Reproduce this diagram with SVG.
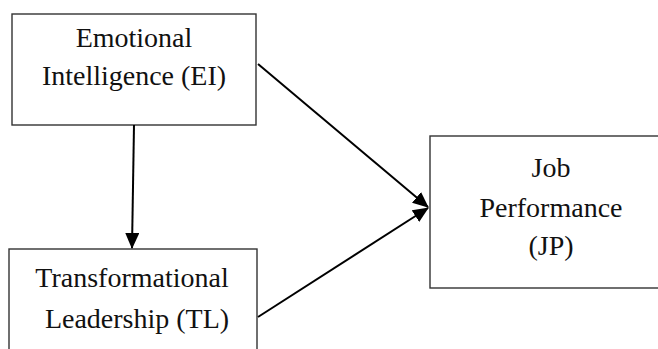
<svg xmlns="http://www.w3.org/2000/svg" width="658" height="349" viewBox="0 0 658 349">
<style>
.box{fill:#fff;stroke:#333;stroke-width:1.4}
.t{font-family:"Liberation Serif","Times New Roman",serif;font-size:28px;fill:#111;text-anchor:middle}
.c{stroke:#000;stroke-width:2;fill:none;marker-end:url(#ah)}
</style>
<defs>
<marker id="ah" markerWidth="16" markerHeight="14" refX="15" refY="7" orient="auto" markerUnits="userSpaceOnUse">
<path d="M0,0 L16,7 L0,14 Z" fill="#000"/>
</marker>
</defs>
<rect width="658" height="349" fill="#fff"/>
<g id="ei">
<rect class="box" x="12" y="14" width="244" height="111"/>
<text class="t" x="134" y="47">Emotional</text>
<text class="t" x="134" y="85">Intelligence (EI)</text>
</g>
<g id="tl">
<rect class="box" x="9" y="249" width="248" height="120"/>
<text class="t" x="132" y="287">Transformational</text>
<text class="t" x="137" y="328">Leadership (TL)</text>
</g>
<g id="jp">
<rect class="box" x="430" y="136" width="240" height="152"/>
<text class="t" x="551" y="177">Job</text>
<text class="t" x="551" y="217">Performance</text>
<text class="t" x="551" y="255">(JP)</text>
</g>
<g id="connectors">
<line class="c" x1="134" y1="125" x2="132" y2="248"/>
<line class="c" x1="258" y1="64" x2="428" y2="207"/>
<line class="c" x1="258" y1="317" x2="428" y2="208"/>
</g>
</svg>
